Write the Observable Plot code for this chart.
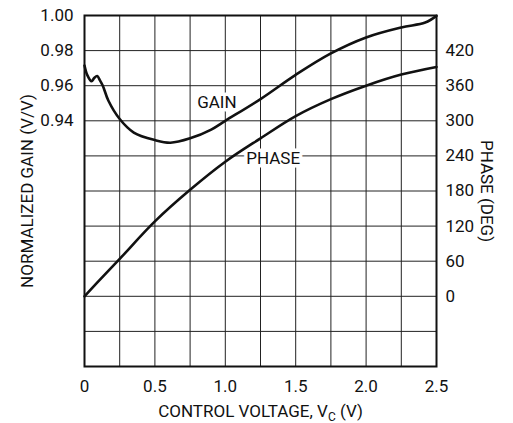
<!DOCTYPE html>
<html>
<head>
<meta charset="utf-8">
<script src="https://cdn.jsdelivr.net/npm/d3@7"></script>
<script src="https://cdn.jsdelivr.net/npm/@observablehq/plot@0.6"></script>
<style>
  html, body { margin: 0; padding: 0; background: #fff; }
  #chart { width: 513px; height: 423px; }
</style>
</head>
<body>
<div id="chart"></div>
<script>
// ---- data ----
const gainV = [0, 0.02, 0.05, 0.07, 0.09, 0.11, 0.13, 0.17, 0.25, 0.35, 0.5, 0.61, 0.75, 0.9, 1.0, 1.25, 1.5, 1.75, 2.0, 2.25, 2.42, 2.5];
const gain  = [0.9715, 0.966, 0.9625, 0.9645, 0.9655, 0.963, 0.960, 0.9514, 0.941, 0.9333, 0.929, 0.9275, 0.930, 0.935, 0.940, 0.9524, 0.9662, 0.9784, 0.9875, 0.9932, 0.996, 0.9998];
const phaseV = [0, 0.1, 0.25, 0.5, 0.75, 1.0, 1.25, 1.5, 1.75, 2.0, 2.25, 2.5];
const phase  = [0, 26, 64, 128, 182, 230, 270, 308, 337, 360, 379, 392];

const xTickLabels = [0, 0.5, 1.0, 1.5, 2.0, 2.5];
const xGrid = [0.25, 0.5, 0.75, 1.0, 1.25, 1.5, 1.75, 2.0, 2.25];
const gainTicks = [0.94, 0.96, 0.98, 1.00];
const gainGrid = [0.82, 0.84, 0.86, 0.88, 0.90, 0.92, 0.94, 0.96, 0.98];
const phaseTicks = [0, 60, 120, 180, 240, 300, 360, 420];

const xDomain = [0, 2.5];
const gainDomain = [0.80, 1.00];
const phaseDomain = [-120, 480];

const xTitle = "CONTROL VOLTAGE, VC (V)";
const yTitle = "NORMALIZED GAIN (V/V)";
const y2Title = "PHASE (DEG)";
const labels = [
  {x: 0.94, y: 0.9504, text: "GAIN"},
  {x: 1.34, y: 0.9185, text: "PHASE"}
];

// map phase onto the gain axis (shared y scale, secondary axis)
const toGain = p => gainDomain[0] + (p - phaseDomain[0]) / (phaseDomain[1] - phaseDomain[0]) * (gainDomain[1] - gainDomain[0]);
const fromGain = g => phaseDomain[0] + (g - gainDomain[0]) / (gainDomain[1] - gainDomain[0]) * (phaseDomain[1] - phaseDomain[0]);

const gainData = gainV.map((v, i) => ({v, g: gain[i]}));
const phaseData = phaseV.map((v, i) => ({v, g: toGain(phase[i])}));

const FONT = "Roboto, 'Liberation Sans', sans-serif";
const FS = 17;
const INK = "#111";

const chart = Plot.plot({
  width: 513,
  height: 423,
  marginLeft: 84,
  marginRight: 77,
  marginTop: 15,
  marginBottom: 57,
  style: {fontFamily: FONT, fontSize: FS + "px", color: INK, background: "#fff"},
  x: {domain: xDomain},
  y: {domain: gainDomain},
  marks: [
    Plot.gridX(xGrid, {stroke: "#222", strokeOpacity: 1, strokeWidth: 1}),
    Plot.gridY(gainGrid, {stroke: "#222", strokeOpacity: 1, strokeWidth: 1}),
    Plot.text(labels, {x: "x", y: "y", text: "text", fill: INK, stroke: "#fff", strokeWidth: 7, fontSize: FS, fontFamily: FONT}),
    Plot.line(gainData, {x: "v", y: "g", stroke: INK, strokeWidth: 2.6, curve: "catmull-rom"}),
    Plot.line(phaseData, {x: "v", y: "g", stroke: INK, strokeWidth: 2.6, curve: "catmull-rom"}),
    Plot.frame({stroke: INK, strokeWidth: 2}),
    Plot.axisX({ticks: xTickLabels, tickSize: 0, tickPadding: 13, label: null,
      tickFormat: d => d === 0 ? "0" : d3.format(".1f")(d), fontSize: FS, fontFamily: FONT}),
    Plot.axisY({anchor: "left", ticks: gainTicks, tickSize: 0, tickPadding: 11, label: null,
      tickFormat: d3.format(".2f"), fontSize: FS, fontFamily: FONT}),
    Plot.axisY({anchor: "right", ticks: phaseTicks.map(toGain), tickSize: 0, tickPadding: 9, label: null,
      tickFormat: g => String(Math.round(fromGain(g))), fontSize: FS, fontFamily: FONT}),
    Plot.text([xTitle], {frameAnchor: "bottom", dy: 45, textAnchor: "middle", lineAnchor: "middle", fill: INK, fontSize: FS, fontFamily: FONT}),
    Plot.text([yTitle], {frameAnchor: "left", dx: -57, rotate: -90, textAnchor: "middle", lineAnchor: "middle", fill: INK, fontSize: FS, fontFamily: FONT}),
    Plot.text([y2Title], {frameAnchor: "right", dx: 50, rotate: 90, textAnchor: "middle", lineAnchor: "middle", fill: INK, fontSize: FS, fontFamily: FONT})
  ]
});

// subscript "C" in the x-axis title
chart.querySelectorAll("text").forEach(t => {
  if (t.textContent === xTitle) {
    const ns = "http://www.w3.org/2000/svg";
    const target = t.querySelector("tspan") || t;
    while (target.firstChild) target.removeChild(target.firstChild);
    const a = document.createElementNS(ns, "tspan"); a.textContent = "CONTROL VOLTAGE, V";
    const b = document.createElementNS(ns, "tspan"); b.textContent = "C"; b.setAttribute("dy", "4"); b.setAttribute("font-size", "12");
    const c = document.createElementNS(ns, "tspan"); c.textContent = " (V)"; c.setAttribute("dy", "-4");
    target.append(a, b, c);
  }
});

document.getElementById("chart").append(chart);
</script>
</body>
</html>
